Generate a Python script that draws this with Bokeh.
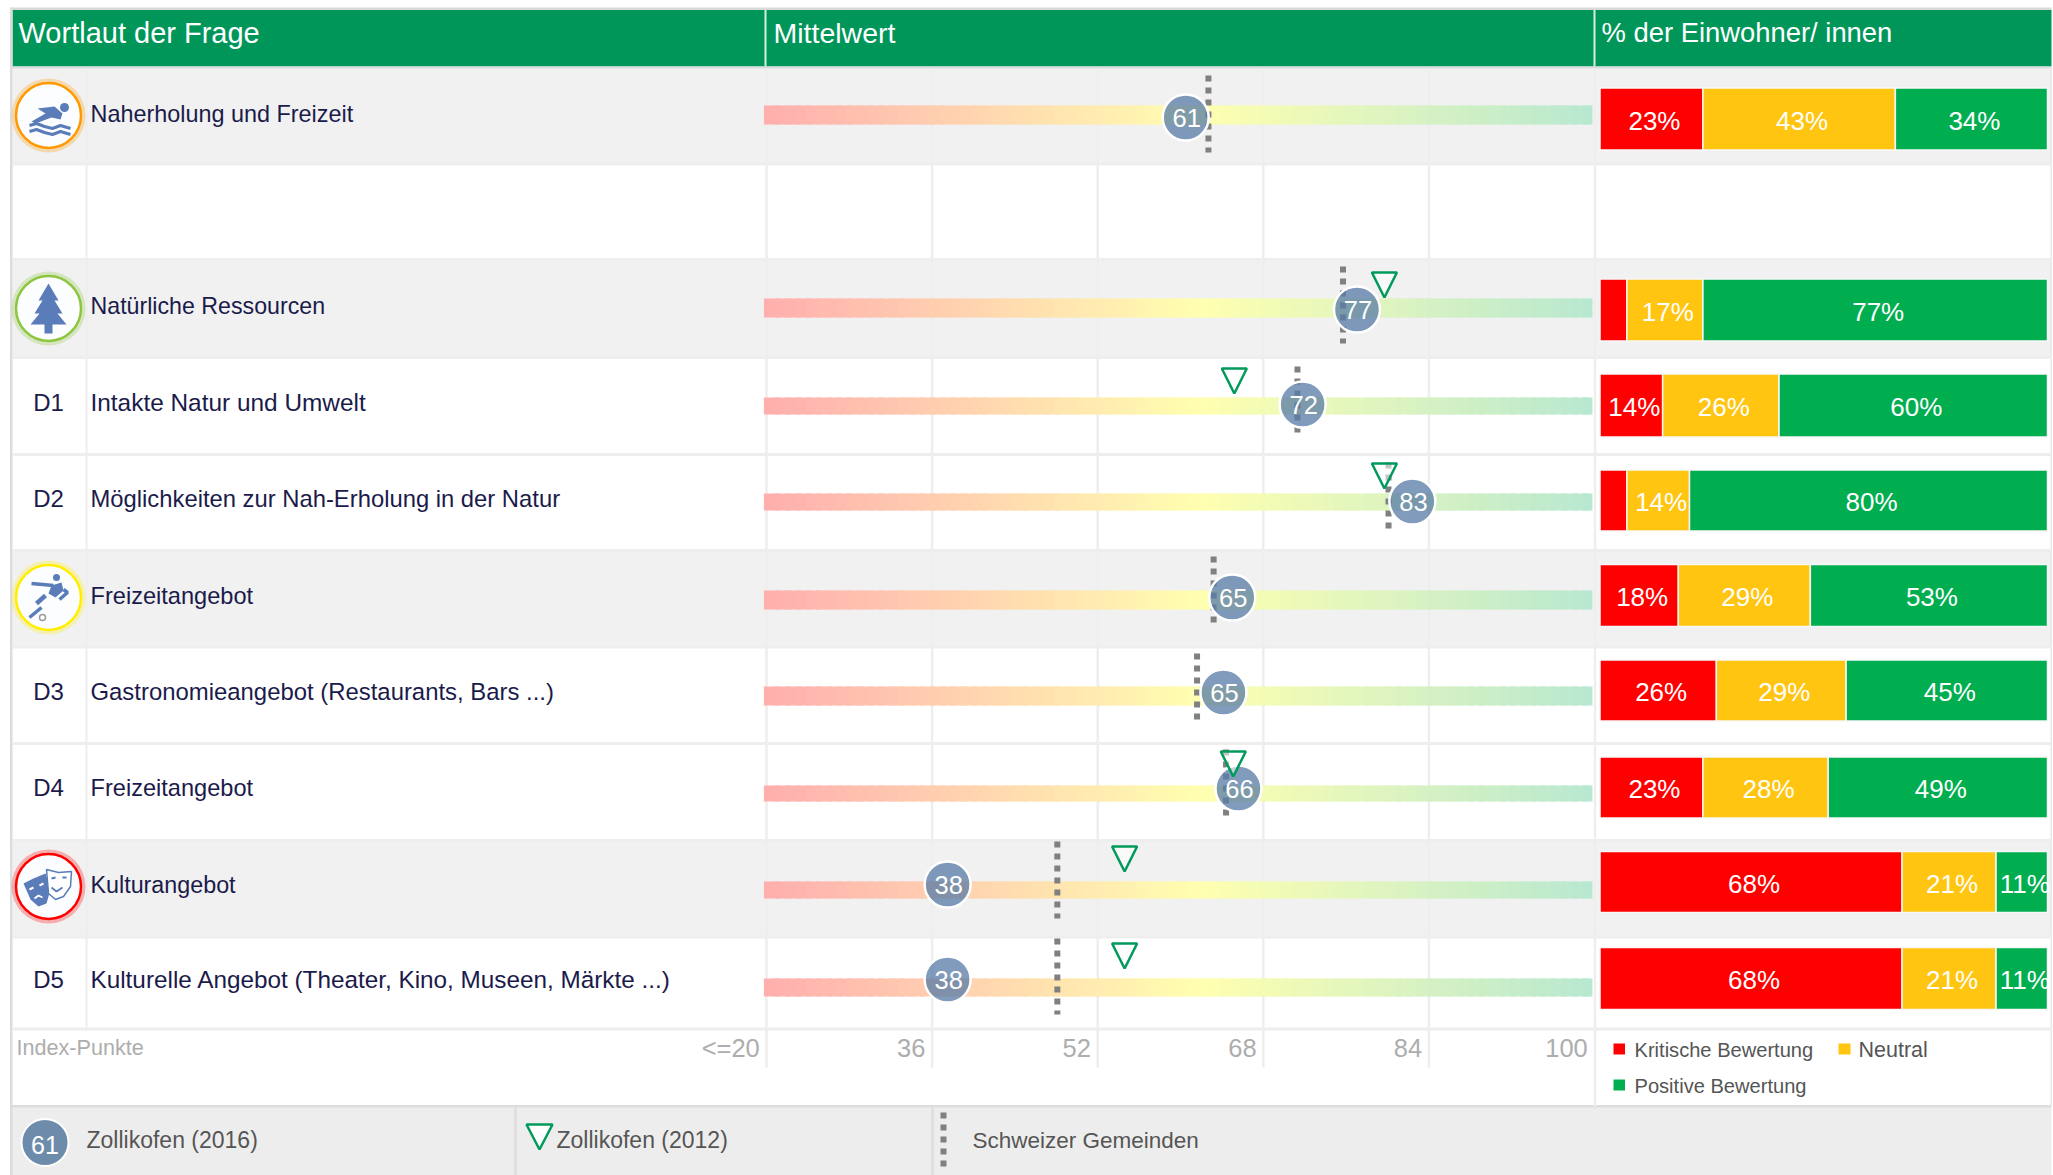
from bokeh.plotting import figure
from bokeh.models import Range1d
from bokeh.embed import file_html
from bokeh.resources import INLINE
from bokeh.core.properties import value

# ---------- data ----------
codes = ["", "", "D1", "D2", "", "D3", "D4", "", "D5"]
questions = ["Naherholung und Freizeit", "Natürliche Ressourcen", "Intakte Natur und Umwelt",
             "Möglichkeiten zur Nah-Erholung in der Natur", "Freizeitangebot",
             "Gastronomieangebot (Restaurants, Bars ...)", "Freizeitangebot", "Kulturangebot",
             "Kulturelle Angebot (Theater, Kino, Museen, Märkte ...)"]
mean_2016 = [60.5, 77.05, 71.8, 82.4, 65.0, 64.15, 65.6, 37.5, 37.5]
mean_2016_labels = ["61", "77", "72", "83", "65", "65", "66", "38", "38"]
mean_2012 = [None, 79.7, 65.2, 79.7, None, None, 65.1, 54.6, 54.6]
swiss = [62.7, 75.7, 71.3, 80.1, 63.2, 61.6, 64.4, 48.1, 48.1]
critical = [23, 6, 14, 6, 17.5, 26, 23, 67.5, 67.5]
neutral = [43, 17, 26, 14, 29.5, 29, 28, 21, 21]
positive = [34, 77, 60, 80, 53, 45, 49, 11.5, 11.5]
critical_labels = ["23%", "", "14%", "", "18%", "26%", "23%", "68%", "68%"]
neutral_labels = ["43%", "17%", "26%", "14%", "29%", "29%", "28%", "21%", "21%"]
positive_labels = ["34%", "77%", "60%", "80%", "53%", "45%", "49%", "11%", "11%"]
index_ticks = [20, 36, 52, 68, 84, 100]
index_tick_labels = ["<=20", "36", "52", "68", "84", "100"]

# ---------- layout (page pixels) ----------
W, H = 2053, 1175
OX, OY = 0, 0
row_top = [68, 259, 357, 454, 550, 647, 743, 840, 937]
row_bot = [163.5, 357, 454, 550, 646.5, 743, 840, 936.5, 1028.5]
grey_rows = [0, 1, 4, 7]
bar_y = [(105, 124), (298, 317), (397, 414), (493, 510), (590, 609), (686, 705), (785, 801), (881, 898), (978, 996)]
circle_y = [117, 309, 404, 501, 597, 692, 788, 884, 979]
swiss_y = [(75, 152), (266, 343), (366, 437), (462, 533), (556, 628), (653, 724), (749, 821), (841, 918), (938, 1014)]
tri_top = [0, 272, 368, 463, 0, 0, 751, 846, 943]
stack_y = [(87.5, 149.5), (278.5, 340.5), (373.5, 436.5), (469.5, 530.5), (564, 626), (659.5, 720.5), (756.5, 817.5), (851, 912), (947, 1009)]
text_y = [113, 305, 402, 498, 595, 691, 787, 884, 979]
question_sizes = [23.4, 23.2, 24.4, 23.8, 23.6, 23.9, 23.6, 23.3, 24.3]
PX20, PXU = 766.0, 10.35
PCT0, PCTU = 1599.5, 4.475
FONT = value("Liberation Sans")
GREEN, LINE = "#00965a", "#eeeeee"

idx_range = Range1d((OX - PX20) / PXU + 20, (OX + W - PX20) / PXU + 20)
pct_range = Range1d((OX - PCT0) / PCTU, (OX + W - PCT0) / PCTU)
p = figure(width=W, height=H, output_backend="svg", toolbar_location=None,
           x_range=Range1d(OX, OX + W), y_range=Range1d(OY + H, OY),
           min_border=0, outline_line_color=None, background_fill_color="white")
p.axis.visible = False
p.grid.visible = False
p.extra_x_ranges = {"idx": idx_range, "pct": pct_range}


def label(x, y, t, size, color, align="left", rng="default", **kw):
    p.text(x=x, y=y, text=t, text_font=FONT, text_font_size=f"{size}px", text_color=color,
           text_align=align, text_baseline="middle", x_range_name=rng, **kw)


# backgrounds
p.quad(left=[12], right=[2051], top=[9.5], bottom=[66], fill_color=GREEN, line_color=None)
p.quad(left=[10], right=[2051], top=[7], bottom=[9.5], fill_color="#d9d9d9", line_color=None)
p.quad(left=[10], right=[2051], top=[66], bottom=[68.5], fill_color="#dddddd", line_color=None)
p.quad(left=[12] * len(grey_rows), right=[2051] * len(grey_rows),
       top=[row_top[i] if i != 1 else 259 for i in grey_rows],
       bottom=[row_bot[i] for i in grey_rows], fill_color="#f1f1f1", line_color=None)
p.quad(left=[10], right=[2051], top=[1106], bottom=[1175], fill_color="#ededed", line_color=None)
p.quad(left=[10], right=[2051], top=[1104.5], bottom=[1107], fill_color="#dddddd", line_color=None)
p.quad(left=[9.5], right=[12], top=[7], bottom=[1175], fill_color="#dcdcdc", line_color=None)
p.quad(left=[2050], right=[2051.5], top=[68], bottom=[1106], fill_color="#e8e8e8", line_color=None)

# rows lines
ys = [163.5, 259] + row_bot[1:]
p.segment(x0=[12] * len(ys), x1=[2051] * len(ys), y0=ys, y1=ys, line_color=LINE, line_width=3)
# column lines
p.segment(x0=[86], x1=[86], y0=[68], y1=[1029], line_color=LINE, line_width=2)
p.segment(x0=[1594.5], x1=[1594.5], y0=[68], y1=[1106], line_color=LINE, line_width=2.5)
p.segment(x0=index_ticks[:-1], x1=index_ticks[:-1], y0=[68] * 5, y1=[1067] * 5, x_range_name="idx",
          line_color=LINE, line_width=2.5)
p.segment(x0=[765, 1594], x1=[765, 1594], y0=[9.5, 9.5], y1=[66, 66], line_color="#d8ece2", line_width=2)
p.segment(x0=[515, 932], x1=[515, 932], y0=[1107, 1107], y1=[1175, 1175], line_color="#dddddd", line_width=2.5)

# headers
label([18], [32], ["Wortlaut der Frage"], 29, "white")
label([773], [32], ["Mittelwert"], 28.5, "white")
label([1601], [32], ["% der Einwohner/ innen"], 27.4, "white")

# gradient bars
STOPS = [(19.75, (255, 174, 174)), (62.0, (255, 255, 176)), (99.8, (184, 232, 208))]


def grad(v):
    (a, ca), (b, cb) = (STOPS[0], STOPS[1]) if v < STOPS[1][0] else (STOPS[1], STOPS[2])
    t = (v - a) / (b - a)
    return "#%02x%02x%02x" % tuple(round(x + (y - x) * t) for x, y in zip(ca, cb))


n_steps = 80
step = (STOPS[2][0] - STOPS[0][0]) / n_steps
lefts = [STOPS[0][0] + i * step for i in range(n_steps)]
rights = [min(v + step * 1.6, STOPS[2][0]) for v in lefts]
cols = [grad(v + step / 2) for v in lefts]
for top, bot in bar_y:
    p.quad(left=lefts, right=rights, top=[top] * n_steps, bottom=[bot] * n_steps,
           fill_color=cols, line_color=None, x_range_name="idx")

# national reference (dotted)
p.segment(x0=swiss, x1=swiss, y0=[a for a, _ in swiss_y], y1=[b for _, b in swiss_y], x_range_name="idx",
          line_color="#808080", line_width=6, line_dash="6 6")

# 2016 circles
p.scatter(x=mean_2016, y=circle_y, size=46, marker="circle", x_range_name="idx", fill_color="#587ba5",
          fill_alpha=0.76, line_color="white", line_width=2.5)
label([v + 0.1 for v in mean_2016], [y + 0.5 for y in circle_y], mean_2016_labels, 25.5, "white", "center", "idx")

# 2012 triangles
tx = [(v, t) for v, t in zip(mean_2012, tri_top) if v is not None]
hw = 12.5 / PXU
p.patches(xs=[[v - hw, v + hw, v] for v, _ in tx], ys=[[t, t, t + 25] for _, t in tx], x_range_name="idx",
          fill_color="white", fill_alpha=0.55, line_color="#009a5b", line_width=2.5)

# stacked bars
left = [0.0] * 9
for vals, labs, col in ((critical, critical_labels, "#ff0000"), (neutral, neutral_labels, "#ffc510"),
                        (positive, positive_labels, "#00ae50")):
    right = [a + b for a, b in zip(left, vals)]
    p.quad(left=left, right=right, top=[a for a, _ in stack_y], bottom=[b for _, b in stack_y],
           x_range_name="pct", fill_color=col, line_color="#f7f7f7", line_width=1.5)
    mids = [(a + b) / 2 + 3 / PCTU for a, b in zip(left, right)]
    label(mids, [(a + b) / 2 + 1.5 for a, b in stack_y], labs, 26, "white", "center", "pct")
    left = right

# question texts
NAVY = "#1b1b4b"
for q, y, s in zip(questions, text_y, question_sizes):
    label([90], [y], [q], s, NAVY)
label([48] * 9, text_y, codes, 24, NAVY, "center")

# index axis labels
label([16], [1047], ["Index-Punkte"], 21.6, "#adadad")
label([t - 0.65 for t in index_ticks], [1047] * 6, index_tick_labels, 25.5, "#adadad", "right", "idx")

# right legend
p.quad(left=[1613, 1838, 1613], right=[1624.5, 1850, 1624.5], top=[1043, 1043, 1079], bottom=[1054, 1054, 1090],
       fill_color=["#ff0000", "#ffc510", "#00ae50"], line_color=None)
label([1634, 1634], [1049, 1085], ["Kritische Bewertung", "Positive Bewertung"], 20.1, "#555555")
label([1858], [1049], ["Neutral"], 21.5, "#555555")

# bottom legend
p.scatter(x=[44.5], y=[1142], size=47, marker="circle", fill_color="#6d8cab", line_color="white", line_width=2)
label([44.5], [1144], ["61"], 25, "white", "center")
p.patches(xs=[[526, 552, 539]], ys=[[1124, 1124, 1149]], fill_color="white", line_color="#009a5b", line_width=2.5)
p.segment(x0=[943], x1=[943], y0=[1112], y1=[1168], line_color="#808080", line_width=6, line_dash="6 6")
label([86, 556], [1139.5] * 2, ["Zollikofen (2016)", "Zollikofen (2012)"], 23, "#555555")
label([972], [1139.5], ["Schweizer Gemeinden"], 22.5, "#555555")

# icons
ICON = "#5a7cb8"
badges = [(115, "#ff9900"), (308, "#8cc63f"), (597, "#ffee00"), (886, "#ff0000")]
p.scatter(x=[48] * 4, y=[b[0] for b in badges], size=74, marker="circle", fill_color=[b[1] for b in badges],
          fill_alpha=0.28, line_color=None)
p.scatter(x=[48] * 4, y=[b[0] for b in badges], size=65, marker="circle", fill_color="#fcfdff",
          line_color=[b[1] for b in badges], line_width=2.5)


def poly(cx, cy, pts, fill=ICON, line=None, lw=1):
    p.patch([cx + a for a, _ in pts], [cy + b for _, b in pts], fill_color=fill, line_color=line, line_width=lw)


def path(cx, cy, pts, lw=3, col=ICON):
    p.line([cx + a for a, _ in pts], [cy + b for _, b in pts], line_color=col, line_width=lw)


def dot(cx, cy, r, fill=ICON, line=None):
    p.scatter([cx], [cy], size=2 * r, marker="circle", fill_color=fill, line_color=line, line_width=1.5)


# swimmer
c = (48, 115)
dot(c[0] + 16, c[1] - 8, 4.5)
poly(*c, [(-11, -7), (6, -9), (14, -2), (12, 4), (3, 2), (-13, 8), (-17, 6), (-3, -2)])
wave = [(-19, 10), (-12, 8), (-4, 11), (4, 13), (12, 10), (22, 13)]
path(*c, wave)
path(*c, [(a, b + 6) for a, b in wave])
# tree
c = (48, 308)
poly(*c, [(0, -25), (-10, -8), (-6, -8), (-14, 5), (-9, 5), (-18, 16), (-4, 16), (-4, 25), (4, 25), (4, 16),
          (18, 16), (9, 5), (14, 5), (6, -8), (10, -8)])
# footballer
c = (48, 597)
dot(c[0] + 8, c[1] - 20, 3.5)
path(*c, [(-17, -14), (5, -12)], 3.5)
poly(*c, [(3, -12), (13, -15), (15, -7), (7, 0), (0, -4)])
path(*c, [(15, -8), (19, -5), (11, 2)], 3.5)
path(*c, [(-3, -2), (-12, 6)], 4.5)
path(*c, [(-7, 10), (-19, 20)], 3.5)
dot(c[0] - 6, c[1] + 20, 3, "white", "#999999")
# masks
c = (48, 886)
poly(*c, [(-25, -3), (-15, -8), (-3, -13), (2, 3), (-2, 17), (-10, 20), (-18, 13)])
poly(*c, [(-2, -17), (10, -14), (23, -15), (22, 0), (15, 10), (7, 13), (0, 7)], "white", ICON, 1.5)
path(*c, [(3, 1), (8, 5), (14, 1)], 1.8)
path(*c, [(3, -8), (7, -9)], 2)
path(*c, [(14, -9), (18, -9)], 2)
path(*c, [(-19, 3), (-15, 1)], 2, "white")
path(*c, [(-9, -1), (-5, -3)], 2, "white")
path(*c, [(-14, 12), (-10, 9), (-6, 11)], 1.8, "white")

open("out.html", "w").write(file_html(p, INLINE))
